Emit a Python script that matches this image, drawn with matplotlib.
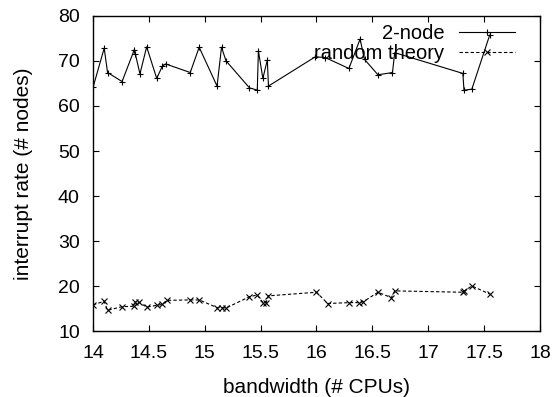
import numpy as np
import matplotlib
matplotlib.use("Agg")
import matplotlib.pyplot as plt

plt.rcParams['font.family'] = ['Liberation Sans', 'DejaVu Sans']

# 2-node series
x_node = [14.00, 14.10, 14.13, 14.26, 14.37, 14.38, 14.42, 14.48, 14.57, 14.62,
          14.65, 14.87, 14.95, 15.11, 15.15, 15.19, 15.40, 15.47, 15.48, 15.52,
          15.56, 15.57, 15.99, 16.08, 16.29, 16.39, 16.43, 16.55, 16.68, 16.70,
          17.31, 17.32, 17.39, 17.55]
y_node = [64.1, 72.8, 67.4, 65.4, 72.5, 71.4, 67.1, 73.1, 66.1, 68.8,
          69.3, 67.4, 73.0, 64.4, 73.0, 70.0, 64.0, 63.5, 72.2, 66.1,
          70.2, 64.4, 70.9, 70.7, 68.3, 74.8, 70.3, 66.9, 67.4, 71.8,
          67.2, 63.5, 63.7, 75.7]

# random theory series
x_theory = [14.00, 14.10, 14.13, 14.26, 14.37, 14.38, 14.41, 14.48, 14.57, 14.62,
            14.66, 14.87, 14.95, 15.11, 15.15, 15.19, 15.40, 15.47, 15.52, 15.55,
            15.57, 16.00, 16.10, 16.29, 16.38, 16.42, 16.55, 16.67, 16.70, 17.31,
            17.32, 17.39, 17.55]
y_theory = [15.9, 16.7, 14.7, 15.5, 15.6, 16.6, 16.5, 15.4, 15.8, 16.0,
            16.9, 17.0, 17.0, 15.3, 15.3, 15.2, 17.7, 18.1, 16.4, 16.4,
            17.9, 18.7, 16.2, 16.4, 16.4, 16.6, 18.7, 17.5, 19.0, 18.7,
            18.9, 20.1, 18.3]

xticks = [14, 14.5, 15, 15.5, 16, 16.5, 17, 17.5, 18]
xtick_labels = ['14', '14.5', '15', '15.5', '16', '16.5', '17', '17.5', '18']
yticks = [10, 20, 30, 40, 50, 60, 70, 80]

fig = plt.figure(figsize=(5.58, 3.97), dpi=100)
ax = fig.add_axes([0.1667, 0.165, 0.801, 0.7955])

ax.plot(x_node, y_node, color='black', lw=0.8, marker='+', ms=5, mew=0.8,
        label='2-node')
ax.plot(x_theory, y_theory, color='black', lw=0.8, ls=(0, (3, 2)), marker='x',
        ms=4.5, mew=0.8, label='random theory')

ax.set_xlim(14, 18)
ax.set_ylim(10, 80)
ax.set_xticks(xticks)
ax.set_xticklabels(xtick_labels)
ax.set_yticks(yticks)
ax.tick_params(direction='in', top=True, right=True, length=4.5, width=0.8,
               labelsize=14)
ax.tick_params(axis='x', pad=10)
ax.tick_params(axis='y', pad=9.5)
for s in ax.spines.values():
    s.set_linewidth(1.0)

ax.set_xlabel('bandwidth (# CPUs)', fontsize=15, labelpad=11)
ax.set_ylabel('interrupt rate (# nodes)', fontsize=15, labelpad=18)

leg = ax.legend(loc='upper right', bbox_to_anchor=(0.944, 0.975),
                frameon=False, markerfirst=False, numpoints=1,
                fontsize=14.5, handlelength=2.8, handletextpad=0.7,
                labelspacing=0.08, borderpad=0, borderaxespad=0)
for col in leg._legend_handle_box.get_children():
    col.align = 'right'

fig.savefig('out.png', dpi=100)
